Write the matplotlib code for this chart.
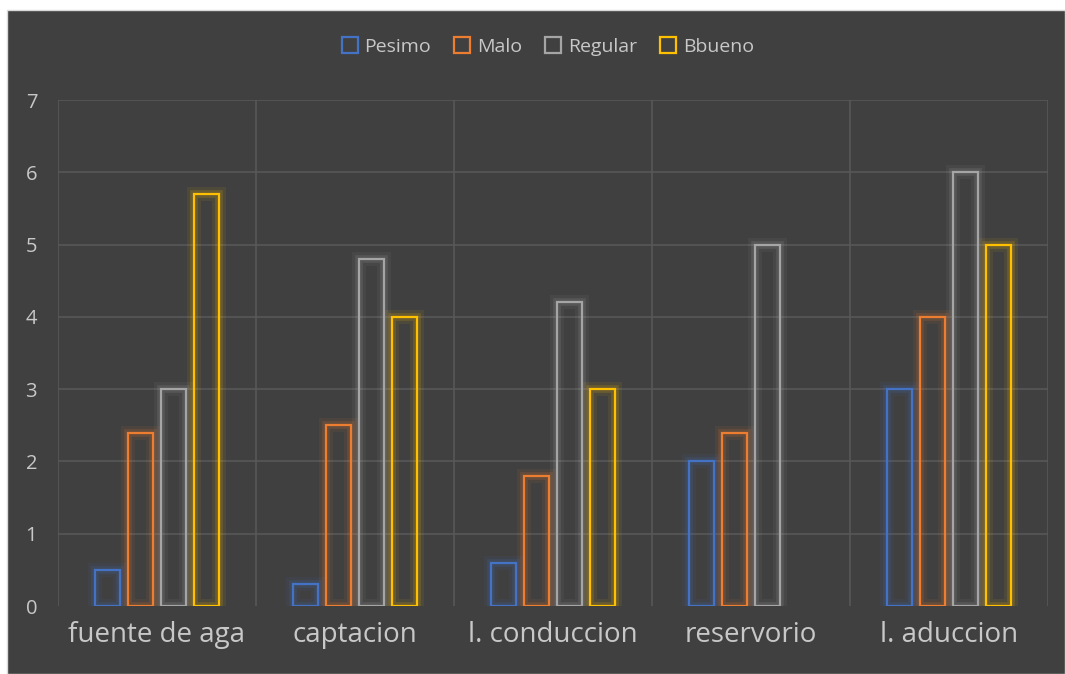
import matplotlib
matplotlib.use("Agg")
import matplotlib.pyplot as plt
import matplotlib.patheffects as pe
from matplotlib.lines import Line2D
from matplotlib.patches import Rectangle
import numpy as np

plt.rcParams['font.family'] = ['Open Sans', 'DejaVu Sans']

# datos
categorias = ["fuente de aga", "captacion", "l. conduccion", "reservorio", "l. aduccion"]
series = ["Pesimo", "Malo", "Regular", "Bbueno"]
pesimo = [0.5, 0.3, 0.6, 2.0, 3.0]
malo = [2.4, 2.5, 1.8, 2.4, 4.0]
regular = [3.0, 4.8, 4.2, 5.0, 6.0]
bbueno = [5.7, 4.0, 3.0, 0.0, 5.0]
colores = ['#4472C4', '#ED7D31', '#A5A5A5', '#FFC000']

fondo = '#404040'
texto = '#C8C8C8'

fig = plt.figure(figsize=(10.65, 6.74), dpi=100)
fig.patch.set_facecolor('white')
# marco oscuro del grafico
fig.patches.append(Rectangle((7 / 1065, 0), 1 - 7 / 1065, 1 - 10 / 674,
                             transform=fig.transFigure, facecolor=fondo,
                             edgecolor='#D9D9D9', linewidth=1, zorder=-10))

ax = fig.add_axes([58 / 1065, 68 / 674, 990 / 1065, 506 / 674])
ax.set_facecolor('none')

x = np.arange(len(categorias))
paso = 0.167
ancho = 0.126
valores = [pesimo, malo, regular, bbueno]

for i, (vals, c) in enumerate(zip(valores, colores)):
    pos = x + (i - 1.5) * paso
    barras = ax.bar(pos, vals, width=ancho, facecolor='none', edgecolor=c,
                    linewidth=1.6, zorder=3)
    for b, v in zip(barras, vals):
        if v == 0:
            b.set_visible(False)
        # brillo alrededor del borde
        b.set_path_effects([
            pe.Stroke(linewidth=10, foreground=c, alpha=0.08),
            pe.Stroke(linewidth=5.5, foreground=c, alpha=0.16),
            pe.Normal()])

# rejilla
ax.set_xlim(-0.5, len(categorias) - 0.5)
ax.set_ylim(0, 7)
ax.set_yticks(range(0, 8))
ax.set_xticks(x)
ax.set_xticklabels(categorias)
for yy in range(1, 8):
    ax.axhline(yy, color='#585858', linewidth=1.2, zorder=1)
for xx in np.arange(-0.5, len(categorias), 1.0):
    ax.axvline(xx, color='#585858', linewidth=1.2, zorder=1)

for s in ax.spines.values():
    s.set_visible(False)
ax.tick_params(length=0, colors=texto)
ax.tick_params(axis='y', labelsize=14.5, pad=15)
ax.tick_params(axis='x', labelsize=20, pad=11)

# leyenda
handles = [Line2D([], [], linestyle='none', marker='s', markersize=11,
                  markerfacecolor='none', markeredgecolor=c, markeredgewidth=1.6)
           for c in colores]
leg = fig.legend(handles, series, loc='center', bbox_to_anchor=(547 / 1065, 1 - 47 / 674),
                 ncol=4, frameon=False, fontsize=14, labelcolor=texto,
                 handletextpad=0.25, columnspacing=1.1, handlelength=1.0)

fig.savefig('out.png', dpi=100, facecolor=fig.get_facecolor())
